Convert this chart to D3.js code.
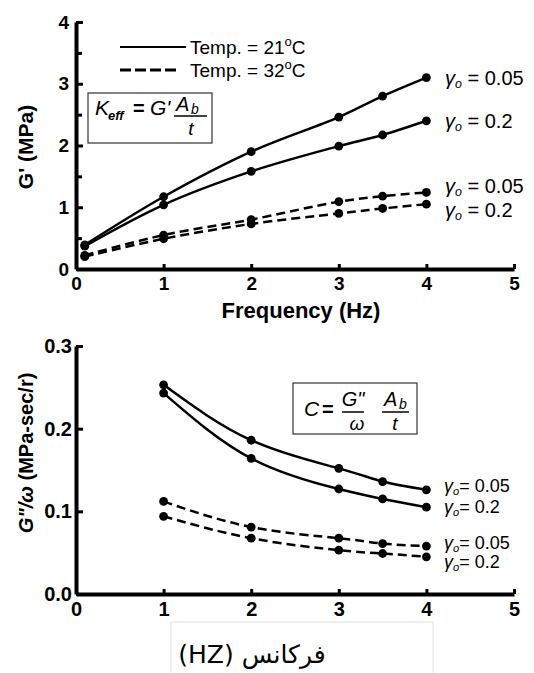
<!DOCTYPE html>
<html>
<head>
<meta charset="utf-8">
<script src="https://cdn.jsdelivr.net/npm/d3@7"></script>
<style>
  body { margin: 0; background: #fff; }
  text { font-family: "Liberation Sans", Arial, sans-serif; fill: #000; }
</style>
</head>
<body>
<svg id="chart" width="534" height="673"></svg>
<script>
// ---- data ----
// top panel: storage modulus G' (MPa) vs frequency (Hz)
let freq_top = [0.1, 1, 2, 3, 3.5, 4]
let g1_21_005 = [0.39, 1.17, 1.90, 2.46, 2.80, 3.10]
let g1_21_02 = [0.37, 1.04, 1.58, 1.99, 2.17, 2.40]
let g1_32_005 = [0.22, 0.55, 0.80, 1.09, 1.18, 1.24]
let g1_32_02 = [0.20, 0.49, 0.73, 0.90, 0.98, 1.05]

// bottom panel: G''/omega (MPa-sec/r) vs frequency (Hz)
let freq_bot = [1, 2, 3, 3.5, 4]
let g2_21_005 = [0.253, 0.186, 0.152, 0.136, 0.126]
let g2_21_02 = [0.243, 0.164, 0.127, 0.115, 0.105]
let g2_32_005 = [0.112, 0.081, 0.0675, 0.061, 0.058]
let g2_32_02 = [0.094, 0.0675, 0.053, 0.049, 0.045]

let x_ticks = [0, 1, 2, 3, 4, 5]
let y_ticks_top = [0, 1, 2, 3, 4]
let y_minor_top = [0.5, 1.5, 2.5, 3.5]
let y_ticks_bot = [0, 0.1, 0.2, 0.3]
let strain_labels = ["0.05", "0.2", "0.05", "0.2"]
let legend_labels = ["21", "32"]

let svg = d3.select("#chart")
svg.append("rect").attr("width", 534).attr("height", 673).attr("fill", "#fff")

let x = d3.scaleLinear().domain([0, 5]).range([76, 514])
let y_top = d3.scaleLinear().domain([0, 4]).range([269, 22])
let y_bot = d3.scaleLinear().domain([0, 0.3]).range([594, 346])

function style_axis(g, size) {
    g.select(".domain").attr("stroke", "#000").attr("stroke-width", 4)
    g.selectAll(".tick line").attr("stroke", "#000").attr("stroke-width", 3)
    g.selectAll(".tick text")
        .attr("font-family", "'Liberation Sans', Arial, sans-serif")
        .attr("font-weight", "bold")
        .attr("font-size", size)
}

// series drawing, same for both panels
function draw_series(g, xs, ys, yscale, dashed, curve) {
    let pts = xs.map((d, i) => [d, ys[i]])
    let line = d3.line()
        .x(d => x(d[0]))
        .y(d => yscale(d[1]))
        .curve(curve)
    g.append("path")
        .attr("d", line(pts))
        .attr("fill", "none")
        .attr("stroke", "#000")
        .attr("stroke-width", 2.5)
        .attr("stroke-dasharray", dashed ? "9,5" : null)
    g.selectAll(null)
        .data(pts)
        .enter()
        .append("circle")
        .attr("cx", d => x(d[0]))
        .attr("cy", d => yscale(d[1]))
        .attr("r", 4.4)
        .attr("fill", "#000")
}

function strain_label(g, xpos, ypos, value, spaced, size) {
    let t = g.append("text")
        .attr("x", xpos)
        .attr("y", ypos + size * 0.36)
        .attr("font-size", size)
    t.append("tspan").attr("font-style", "italic").text("\u03b3")
    t.append("tspan").attr("font-style", "italic").attr("font-size", size * 0.62).attr("dy", 3).text("o")
    t.append("tspan").attr("dy", -3).text((spaced ? " = " : "= ") + value)
}

// ================= top panel =================
let panel_top = svg.append("g")

panel_top.append("g")
    .attr("transform", "translate(" + x(0) + ",0)")
    .call(d3.axisLeft(y_top).tickValues(y_minor_top).tickSizeInner(-6).tickSizeOuter(0).tickFormat(""))
    .call(g => style_axis(g, 18))
    .select(".domain").remove()

panel_top.append("g")
    .attr("transform", "translate(" + x(0) + ",0)")
    .call(d3.axisLeft(y_top).tickValues(y_ticks_top).tickSizeInner(-7).tickSizeOuter(0).tickPadding(7).tickFormat(d3.format("d")))
    .call(g => style_axis(g, 19))

panel_top.append("g")
    .attr("transform", "translate(0," + y_top(0) + ")")
    .call(d3.axisBottom(x).tickValues(x_ticks).tickSizeInner(-5).tickSizeOuter(0).tickPadding(8).tickFormat(d3.format("d")))
    .call(g => style_axis(g, 19))

panel_top.append("text")
    .attr("x", 301).attr("y", 318)
    .attr("text-anchor", "middle")
    .attr("font-weight", "bold").attr("font-size", 22)
    .text("Frequency (Hz)")

panel_top.append("text")
    .attr("transform", "translate(33,147) rotate(-90)")
    .attr("text-anchor", "middle")
    .attr("font-weight", "bold").attr("font-size", 21)
    .text("G' (MPa)")

draw_series(panel_top, freq_top, g1_21_005, y_top, false, d3.curveCatmullRom)
draw_series(panel_top, freq_top, g1_21_02, y_top, false, d3.curveCatmullRom)
draw_series(panel_top, freq_top, g1_32_005, y_top, true, d3.curveCatmullRom)
draw_series(panel_top, freq_top, g1_32_02, y_top, true, d3.curveCatmullRom)

let top_last = [g1_21_005, g1_21_02, g1_32_005, g1_32_02].map(s => s[s.length - 1])
let top_shift = [0, 0, -7, 6]
top_last.forEach((v, i) => strain_label(panel_top, 445, y_top(v) + top_shift[i], strain_labels[i], true, 20))

// legend
let legend = panel_top.append("g")
legend_labels.forEach((t, i) => {
    let ly = 47 + i * 23
    legend.append("line")
        .attr("x1", 120).attr("x2", i ? 180 : 186)
        .attr("y1", ly).attr("y2", ly)
        .attr("stroke", "#000")
        .attr("stroke-width", i ? 3 : 2)
        .attr("stroke-dasharray", i ? "11,4" : null)
    let txt = legend.append("text")
        .attr("x", 190).attr("y", ly + 7)
        .attr("font-size", 19)
    txt.append("tspan").text("Temp. = " + t)
    txt.append("tspan").attr("font-size", 13).attr("dy", -8).text("o")
    txt.append("tspan").attr("dy", 8).text("C")
})

// K_eff box
let kbox = panel_top.append("g")
kbox.append("rect")
    .attr("x", 88).attr("y", 93).attr("width", 124).attr("height", 50)
    .attr("fill", "none").attr("stroke", "#333").attr("stroke-width", 1.2)
kbox.append("text").attr("x", 95).attr("y", 115).attr("font-size", 21).attr("font-style", "italic").text("K")
kbox.append("text").attr("x", 108).attr("y", 120).attr("font-size", 13).attr("font-style", "italic").attr("font-weight", "bold").text("eff")
kbox.append("text").attr("x", 133).attr("y", 115).attr("font-size", 20).attr("font-weight", "bold").text("=")
kbox.append("text").attr("x", 150).attr("y", 115).attr("font-size", 21).attr("font-style", "italic").text("G'")
kbox.append("text").attr("x", 176).attr("y", 111).attr("font-size", 20).attr("font-style", "italic").text("A")
kbox.append("text").attr("x", 191).attr("y", 114).attr("font-size", 14).attr("font-style", "italic").text("b")
kbox.append("line").attr("x1", 174).attr("x2", 207).attr("y1", 116).attr("y2", 116).attr("stroke", "#000").attr("stroke-width", 1.5)
kbox.append("text").attr("x", 191).attr("y", 135).attr("font-size", 19).attr("font-style", "italic").attr("text-anchor", "middle").text("t")

// ================= bottom panel =================
let panel_bot = svg.append("g")

panel_bot.append("g")
    .attr("transform", "translate(" + x(0) + ",0)")
    .call(d3.axisLeft(y_bot).tickValues(y_ticks_bot).tickSizeInner(-7).tickSizeOuter(0).tickPadding(4).tickFormat(d3.format(".1f")))
    .call(g => style_axis(g, 20))

panel_bot.append("g")
    .attr("transform", "translate(0," + y_bot(0) + ")")
    .call(d3.axisBottom(x).tickValues(x_ticks).tickSizeInner(-5).tickSizeOuter(0).tickPadding(8).tickFormat(d3.format("d")))
    .call(g => style_axis(g, 20))

let ytitle = panel_bot.append("text")
    .attr("transform", "translate(33,453) rotate(-90)")
    .attr("text-anchor", "middle")
    .attr("font-weight", "bold").attr("font-size", 20)
ytitle.append("tspan").attr("font-style", "italic").text("G\"/")
ytitle.append("tspan").attr("font-style", "italic").text("\u03c9")
ytitle.append("tspan").text(" (MPa-sec/r)")

draw_series(panel_bot, freq_bot, g2_21_005, y_bot, false, d3.curveNatural)
draw_series(panel_bot, freq_bot, g2_21_02, y_bot, false, d3.curveNatural)
draw_series(panel_bot, freq_bot, g2_32_005, y_bot, true, d3.curveNatural)
draw_series(panel_bot, freq_bot, g2_32_02, y_bot, true, d3.curveNatural)

let bot_last = [g2_21_005, g2_21_02, g2_32_005, g2_32_02].map(s => s[s.length - 1])
let bot_shift = [-4, -1, -4, 5]
bot_last.forEach((v, i) => strain_label(panel_bot, 444, y_bot(v) + bot_shift[i], strain_labels[i], false, 18))

// C box
let cbox = panel_bot.append("g")
cbox.append("rect")
    .attr("x", 293).attr("y", 383).attr("width", 124).attr("height", 51)
    .attr("fill", "none").attr("stroke", "#333").attr("stroke-width", 1.2)
cbox.append("text").attr("x", 304).attr("y", 416).attr("font-size", 21).attr("font-style", "italic").text("C")
cbox.append("text").attr("x", 322).attr("y", 416).attr("font-size", 20).attr("font-weight", "bold").text("=")
cbox.append("text").attr("x", 353).attr("y", 406).attr("font-size", 20).attr("font-style", "italic").attr("text-anchor", "middle").text("G\"")
cbox.append("line").attr("x1", 342).attr("x2", 364).attr("y1", 412).attr("y2", 412).attr("stroke", "#000").attr("stroke-width", 1.5)
cbox.append("text").attr("x", 357).attr("y", 430).attr("font-size", 19).attr("font-style", "italic").attr("text-anchor", "middle").text("\u03c9")
cbox.append("text").attr("x", 384).attr("y", 406).attr("font-size", 20).attr("font-style", "italic").text("A")
cbox.append("text").attr("x", 399).attr("y", 409).attr("font-size", 14).attr("font-style", "italic").text("b")
cbox.append("line").attr("x1", 382).attr("x2", 409).attr("y1", 412).attr("y2", 412).attr("stroke", "#000").attr("stroke-width", 1.5)
cbox.append("text").attr("x", 395).attr("y", 430).attr("font-size", 19).attr("font-style", "italic").attr("text-anchor", "middle").text("t")

// Persian caption
svg.append("rect")
    .attr("x", 171).attr("y", 622).attr("width", 262).attr("height", 60)
    .attr("fill", "none").attr("stroke", "#e2e2e2").attr("stroke-width", 1)
svg.append("text")
    .attr("x", 252).attr("y", 663)
    .attr("text-anchor", "middle")
    .attr("direction", "rtl")
    .style("font-family", "'DejaVu Sans', sans-serif")
    .attr("font-size", 25)
    .text("فرکانس (HZ)")
</script>
</body>
</html>
